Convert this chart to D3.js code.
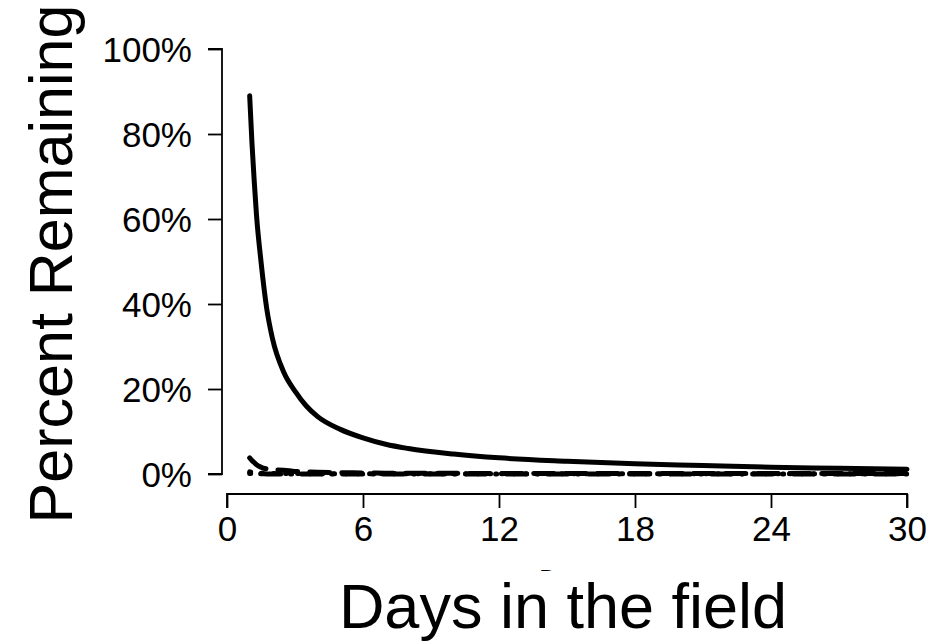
<!DOCTYPE html>
<html>
<head>
<meta charset="utf-8">
<script src="https://cdn.jsdelivr.net/npm/d3@7"></script>
<style>
  body { margin: 0; background: #fff; }
  text { font-family: "Liberation Sans", Arial, Helvetica, sans-serif; fill: #000; }
</style>
</head>
<body>
<svg width="935" height="644"></svg>
<script>
// Data
var days = [1, 1.1, 1.2, 1.3, 1.5, 1.75, 2, 2.5, 3, 3.5, 4, 5, 6, 7, 8, 10, 12, 15, 18, 21, 24, 27, 30];
var solidPct = [89, 78, 69, 61, 50, 39, 32, 24, 19.5, 16, 13.5, 10.5, 8.5, 7, 6, 4.7, 3.8, 3.0, 2.4, 2.0, 1.6, 1.35, 1.1];
var dashedPct = [3.8, 3.2, 2.7, 2.2, 1.6, 1.2, 1.0, 0.9, 0.6, 0.5, 0.4, 0.3, 0.25, 0.2, 0.18, 0.15, 0.13, 0.12, 0.1, 0.1, 0.1, 0.1, 0.1];
var dottedPct = [0.5, 0.4, 0.3, 0.25, 0.2, 0.15, 0.1, 0.1, 0.1, 0.05, 0.05, 0.05, 0.05, 0.05, 0.05, 0.05, 0.05, 0.05, 0.05, 0.05, 0.05, 0.05, 0.05];
var dotdashPct = [0.1, 0.1, 0.05, 0.05, 0.05, 0.02, 0.02, 0.02, 0.02, 0.02, 0.02, 0.02, 0.02, 0.02, 0.02, 0.02, 0.02, 0.02, 0.02, 0.02, 0.02, 0.02, 0.02];
var xTicks = [0, 6, 12, 18, 24, 30];
var yTicks = [0, 20, 40, 60, 80, 100];

var series = [
  {values: dotdashPct, dash: "1,10,20,10"},
  {values: dottedPct, dash: "1,11"},
  {values: dashedPct, dash: "20,12"},
  {values: solidPct, dash: null}
];

// Layout
var svg = d3.select("svg");
var x = d3.scaleLinear().domain([0, 30]).range([227, 907]);
var y = d3.scaleLinear().domain([0, 100]).range([474, 49]);
var xAxisY = 494,
    yAxisX = 222,
    tickLen = 14,
    tickFont = 35;

// Y axis
var yAxis = svg.append("g")
  .attr("transform", "translate(" + yAxisX + ",0)")
  .call(d3.axisLeft(y).tickValues(yTicks).tickSize(tickLen).tickPadding(16)
    .tickFormat(function (d) { return d + "%"; }));

// X axis
var xAxis = svg.append("g")
  .attr("transform", "translate(0," + xAxisY + ")")
  .call(d3.axisBottom(x).tickValues(xTicks).tickSize(tickLen).tickPadding(7));

[xAxis, yAxis].forEach(function (ax) {
  ax.select(".domain").attr("stroke", "#000").attr("stroke-width", 1.8);
  ax.selectAll(".tick line").attr("stroke", "#000").attr("stroke-width", 1.8);
  ax.selectAll(".tick text")
    .style("font-family", "'Liberation Sans', Arial, sans-serif")
    .style("font-size", tickFont + "px")
    .attr("fill", "#000");
});
// R-style axis: domain spans only the ticks
yAxis.select(".domain").attr("d", "M-" + tickLen + "," + y(0) + "H0V" + y(100) + "H-" + tickLen);
xAxis.select(".domain").attr("d", "M" + x(0) + "," + tickLen + "V0H" + x(30) + "V" + tickLen);
yAxis.selectAll(".tick text").attr("dy", "0.36em");
xAxis.selectAll(".tick text").attr("dy", "0.75em");

// Lines
var line = d3.line()
  .x(function (d) { return x(d[0]); })
  .y(function (d) { return y(d[1]); })
  .curve(d3.curveMonotoneX);

svg.append("g").selectAll("path")
  .data(series)
  .enter()
    .append("path")
    .attr("d", function (s) { return line(days.map(function (dd, i) { return [dd, s.values[i]]; })); })
    .attr("fill", "none")
    .attr("stroke", "#000")
    .attr("stroke-width", 5)
    .attr("stroke-linecap", "round")
    .attr("stroke-linejoin", "round")
    .attr("stroke-dasharray", function (s) { return s.dash; });

// Axis titles
svg.append("text")
  .attr("transform", "translate(72,264) rotate(-90)")
  .attr("text-anchor", "middle")
  .style("font-size", "61px")
  .text("Percent Remaining");

svg.append("text")
  .attr("x", 563)
  .attr("y", 628)
  .attr("text-anchor", "middle")
  .style("font-size", "63px")
  .text("Days in the field");

// Leftover top of a smaller, mostly hidden "D" just above the title
svg.append("clipPath").attr("id", "dclip")
  .append("rect").attr("x", 530).attr("y", 568.5).attr("width", 40).attr("height", 2.5);
svg.append("text")
  .attr("x", 548)
  .attr("y", 587)
  .attr("text-anchor", "middle")
  .attr("clip-path", "url(#dclip)")
  .style("font-size", "24px")
  .text("D");
</script>
</body>
</html>
